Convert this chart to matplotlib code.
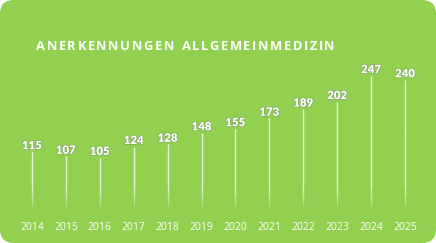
import matplotlib
matplotlib.use("Agg")
import matplotlib.pyplot as plt
import numpy as np
from matplotlib.patches import FancyBboxPatch
from matplotlib.collections import LineCollection
import matplotlib.patheffects as pe

years = ["2014", "2015", "2016", "2017", "2018", "2019", "2020", "2021", "2022", "2023", "2024", "2025"]
values = [115, 107, 105, 124, 128, 148, 155, 173, 189, 202, 247, 240]
title = "ANERKENNUNGEN ALLGEMEINMEDIZIN"

W, H = 436, 243
bg = "#92D050"
fig = plt.figure(figsize=(W / 100, H / 100), dpi=100)
fig.patch.set_facecolor("white")

# rounded background
r = 14
box = FancyBboxPatch((0, 0), W, H, boxstyle=f"round,pad=0,rounding_size={r}",
                     transform=None, facecolor=bg, edgecolor="none", zorder=-10)
fig.patches.append(box)

ax = fig.add_axes([15 / W, 25 / H, 407 / W, 172.8 / H])
ax.set_facecolor("none")
ax.set_xlim(-0.5, len(years) - 0.5)
ax.set_ylim(0, 300)
for s in ax.spines.values():
    s.set_visible(False)
ax.set_yticks([])
x = np.arange(len(years))
ax.set_xticks(x)
ax.set_xticklabels(years, color="white", fontsize=7.5, family="Open Sans")
ax.tick_params(axis="x", length=0, pad=3)

# lollipop lines with fade near bottom
for xi, v in zip(x, values):
    ys = np.linspace(0, v, 120)
    segs = [[(xi, ys[i]), (xi, ys[i + 1])] for i in range(len(ys) - 1)]
    mid = (ys[:-1] + ys[1:]) / 2
    alpha = np.clip((mid - 12) / 45, 0, 1)
    cols = [(1, 1, 1, a) for a in alpha]
    lc = LineCollection(segs, colors=cols, linewidths=1.0)
    ax.add_collection(lc)
    ax.text(xi, v + 1, str(v), ha="center", va="bottom", color="white",
            fontsize=8.2, fontweight="heavy", family="Lato",
            path_effects=[pe.withStroke(linewidth=1.0, foreground=(0.45, 0.55, 0.4, 0.6))])

# title with letter spacing
renderer = fig.canvas.get_renderer()
xpos = 36.0
tracking = 1.6
for ch in title:
    t = fig.text(xpos / W, 1 - 46 / H, ch, color="white", fontsize=9.3, fontweight="bold",
                 family="Open Sans", ha="left", va="center")
    if ch == " ":
        w = 4.5
    else:
        w = t.get_window_extent(renderer).width
    xpos += w + tracking

fig.savefig("out.png", dpi=100, facecolor=fig.get_facecolor())
